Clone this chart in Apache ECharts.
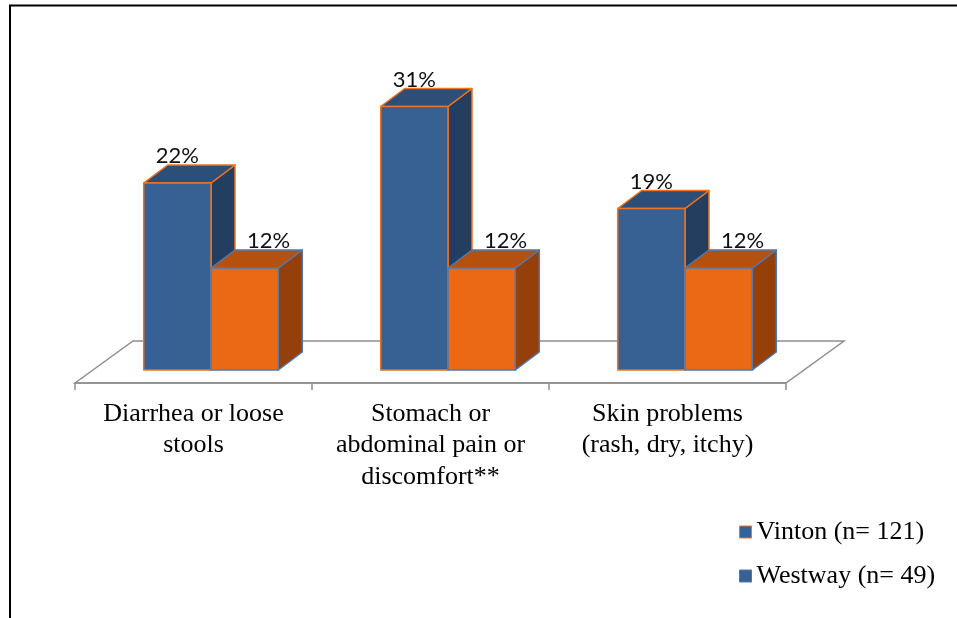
<!DOCTYPE html>
<html>
<head>
<meta charset="utf-8">
<script src="https://cdn.jsdelivr.net/npm/echarts@6/dist/echarts.min.js"></script>
<style>
  html, body { margin: 0; padding: 0; background: #fff; }
  #chart { width: 957px; height: 618px; }
</style>
</head>
<body>
<div id="chart"></div>
<script>
// Symptom categories and the percentage reporting each, per community
const categories = [
  'Diarrhea or loose\nstools',
  'Stomach or\nabdominal pain or\ndiscomfort**',
  'Skin problems\n(rash, dry, itchy)'
];
const vintonValues = [22, 31, 19];
const westwayValues = [12, 12, 12];
const seriesNames = ['Vinton (n= 121)', 'Westway (n= 49)'];

// Face colours for the two prism series: front, top, side, outline
const palettes = [
  { front: '#386193', top: '#2d4e77', side: '#233e5f', stroke: '#f07320' },
  { front: '#eb6815', top: '#b5500f', side: '#953f0b', stroke: '#4f7aae' }
];

// Pseudo-3D geometry (pixels)
const DEPTH_X = 24, DEPTH_Y = 18;      // prism depth
const INSET_X = 17.5, INSET_Y = 13;    // bars sit slightly back from the floor's front edge
const FLOOR_X = 58, FLOOR_Y = 42;      // floor depth

const serifFont = '"Liberation Serif", "Times New Roman", serif';

function prismRenderer(seriesIndex) {
  const pal = palettes[seriesIndex];
  return function (params, api) {
    const cat = api.value(0);
    const val = api.value(1);
    const band = api.size([1, 0])[0];
    const barW = band * 0.284;
    const base = api.coord([cat, 0]);
    const top = api.coord([cat, val]);
    const yBase = base[1] - INSET_Y;
    const yTop = top[1] - INSET_Y;
    const x0 = base[0] + INSET_X - barW + seriesIndex * barW;
    const x1 = x0 + barW;
    const strokeStyle = { stroke: pal.stroke, lineWidth: 1.5, lineJoin: 'round' };
    return {
      type: 'group',
      children: [
        {
          type: 'polygon',
          shape: { points: [[x1, yTop], [x1 + DEPTH_X, yTop - DEPTH_Y], [x1 + DEPTH_X, yBase - DEPTH_Y], [x1, yBase]] },
          style: Object.assign({ fill: pal.side }, strokeStyle)
        },
        {
          type: 'polygon',
          shape: { points: [[x0, yTop], [x1, yTop], [x1 + DEPTH_X, yTop - DEPTH_Y], [x0 + DEPTH_X, yTop - DEPTH_Y]] },
          style: Object.assign({ fill: pal.top }, strokeStyle)
        },
        {
          type: 'rect',
          shape: { x: x0, y: yTop, width: barW, height: yBase - yTop },
          style: Object.assign({ fill: pal.front }, strokeStyle)
        },
        {
          type: 'text',
          style: {
            text: val + '%',
            x: (x0 + x1) / 2 + seriesIndex * 24,
            y: yTop - 27,
            align: 'center',
            verticalAlign: 'middle',
            font: '22px Lato, "Open Sans", sans-serif',
            fill: '#111'
          }
        }
      ]
    };
  };
}

function floorRenderer(params, api) {
  const cs = params.coordSys;
  const yF = cs.y + cs.height;
  const xL = cs.x, xR = cs.x + cs.width;
  return {
    type: 'polygon',
    shape: { points: [[xL, yF], [xL + FLOOR_X, yF - FLOOR_Y], [xR + FLOOR_X, yF - FLOOR_Y], [xR, yF]] },
    style: { fill: '#ffffff', stroke: '#8f8f8f', lineWidth: 1.5 },
    z2: 0
  };
}

const chart = echarts.init(document.getElementById('chart'), null, { renderer: 'canvas' });

chart.setOption({
  backgroundColor: '#ffffff',
  animation: false,
  graphic: [
    { type: 'polyline', shape: { points: [[10, 618], [10, 5.5], [957, 5.5]] }, style: { stroke: '#000', lineWidth: 2, fill: null } }
  ],
  grid: { left: 75, right: 171, top: 43, bottom: 235 },
  xAxis: {
    type: 'category',
    data: categories,
    boundaryGap: true,
    axisLine: { show: true, lineStyle: { color: '#8f8f8f', width: 1.5 } },
    axisTick: { show: true, length: 7, lineStyle: { color: '#8f8f8f', width: 1.5 } },
    axisLabel: {
      margin: 15,
      fontFamily: serifFont,
      fontSize: 26,
      lineHeight: 31.5,
      color: '#000',
      interval: 0
    },
    z: 1
  },
  yAxis: {
    type: 'value',
    min: 0,
    max: 40,
    show: false,
    splitLine: { show: false }
  },
  legend: {
    orient: 'vertical',
    left: 734,
    top: 514,
    itemWidth: 12,
    itemHeight: 12,
    itemGap: 18,
    icon: 'rect',
    textStyle: { fontFamily: serifFont, fontSize: 26, color: '#000' },
    data: [
      { name: seriesNames[0], itemStyle: { color: '#386193', borderColor: '#f07320', borderWidth: 1 } },
      { name: seriesNames[1], itemStyle: { color: '#386193', borderColor: '#4f7aae', borderWidth: 1 } }
    ]
  },
  series: [
    {
      type: 'custom',
      name: 'floor',
      renderItem: floorRenderer,
      data: [[0]],
      silent: true,
      z: 0
    },
    {
      type: 'custom',
      name: seriesNames[0],
      itemStyle: { color: palettes[0].front },
      renderItem: prismRenderer(0),
      encode: { x: 0, y: 1 },
      data: vintonValues.map((v, i) => [i, v]),
      z: 2
    },
    {
      type: 'custom',
      name: seriesNames[1],
      itemStyle: { color: palettes[1].front },
      renderItem: prismRenderer(1),
      encode: { x: 0, y: 1 },
      data: westwayValues.map((v, i) => [i, v]),
      z: 3
    }
  ]
});
</script>
</body>
</html>
